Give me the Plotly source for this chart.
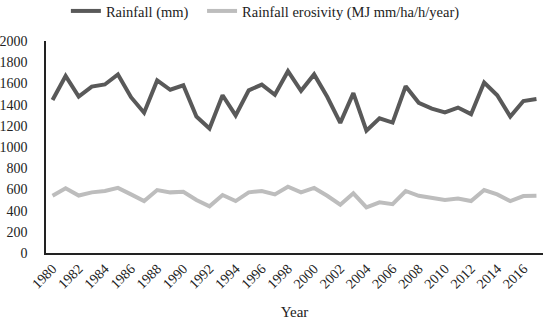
import plotly.graph_objects as go

years = list(range(1980, 2018))
rainfall = [1443, 1670, 1475, 1570, 1590, 1685, 1470, 1323, 1628, 1540,
            1582, 1288, 1175, 1488, 1298, 1535, 1588, 1493, 1715, 1530,
            1685, 1474, 1228, 1508, 1153, 1270, 1230, 1573, 1417, 1362,
            1326, 1372, 1310, 1608, 1488, 1287, 1434, 1453]
erosivity = [540, 610, 542, 572, 585, 614, 553, 490, 594, 572,
             578, 500, 440, 547, 490, 572, 585, 553, 625, 572,
             614, 540, 455, 563, 430, 478, 460, 585, 540, 516,
             500, 514, 490, 594, 553, 490, 537, 540]
tick_years = list(range(1980, 2017, 2))
y_ticks = list(range(0, 2001, 200))

font_family = "Liberation Serif, DejaVu Serif, serif"

fig = go.Figure()
fig.add_trace(go.Scatter(x=years, y=rainfall, mode="lines",
                         name="Rainfall (mm)", legend="legend",
                         line=dict(color="#595959", width=4)))
fig.add_trace(go.Scatter(x=years, y=erosivity, mode="lines",
                         name="Rainfall erosivity (MJ mm/ha/h/year)",
                         legend="legend2",
                         line=dict(color="#bdbdbd", width=4)))

leg_common = dict(orientation="h", xanchor="left", y=1.1415, yanchor="middle",
                  font=dict(size=14.5), itemwidth=30, bgcolor="rgba(0,0,0,0)")

fig.update_layout(
    width=550, height=322,
    margin=dict(l=46, r=7, t=41, b=69, autoexpand=False),
    paper_bgcolor="white", plot_bgcolor="white",
    font=dict(family=font_family, size=14, color="#222222"),
    legend=dict(x=0.040, **leg_common),
    legend2=dict(x=0.314, **leg_common),
    showlegend=True,
)
fig.update_xaxes(range=[1979.5, 2017.5], tickmode="array",
                 tickvals=tick_years, ticktext=[str(y) for y in tick_years],
                 tickangle=-45, showgrid=False, showline=True,
                 linecolor="#222222", linewidth=2, ticks="", zeroline=False,
                 automargin=False,
                 title=dict(text="Year", font=dict(size=15), standoff=16),
                 tickfont=dict(size=14))
fig.update_yaxes(range=[0, 2000], tickmode="array", tickvals=y_ticks,
                 showgrid=False, showline=True, linecolor="#222222",
                 linewidth=1.5, ticks="", zeroline=False, automargin=False,
                 ticklabelstandoff=14, tickfont=dict(size=14))

fig.write_html("out.html", config={"displayModeBar": False},
               post_script="document.body.style.margin='0';")
